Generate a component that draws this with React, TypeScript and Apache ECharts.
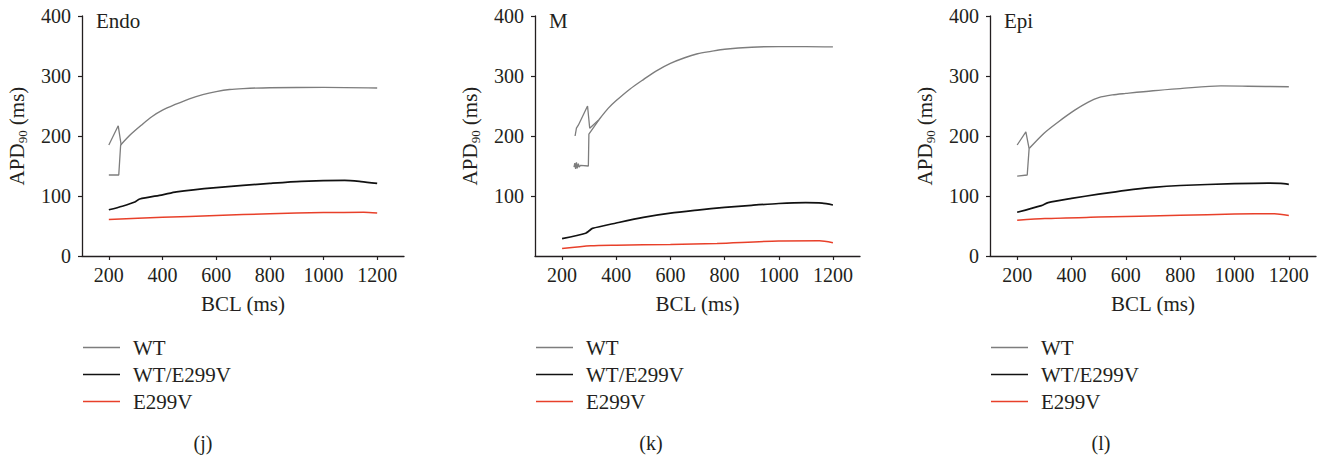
import React, { useEffect, useRef } from "react";
import * as echarts from "echarts";

const FONT = "Liberation Serif";
const TXT = "#231f20";
const C_WT = "#7d7d7d";
const C_MIX = "#111111";
const C_E = "#e8402a";

const seriesNames = ["WT", "WT/E299V", "E299V"];
const panelTitles = ["Endo", "M", "Epi"];
const panelCaptions = ["(j)", "(k)", "(l)"];
const xTicks = [200, 400, 600, 800, 1000, 1200];
const yTicks = [0, 100, 200, 300, 400];

// Endo
const endoWTStart = [[200, 135], [237, 135], [244, 185]];
const endoWTAlt = [[200, 185], [235, 217], [246, 185]];
const endoWT = [[244, 185], [280, 202], [321, 218], [360, 232], [400, 243], [450, 253], [500, 262], [550, 269], [600, 274], [650, 277.5], [700, 279], [800, 280.5], [1000, 281], [1200, 280]];
const endoMix = [[200, 77], [250, 83], [297, 90], [315, 95], [400, 102], [452, 107], [600, 114], [800, 121], [917, 124.5], [1079, 126], [1140, 124], [1200, 121]];
const endoE = [[200, 61], [400, 64.5], [600, 67.5], [800, 70.5], [1000, 72.3], [1150, 72.8], [1200, 71.5]];

// M
const mWTStart = [[244, 148], [247, 155], [250, 145], [253, 156], [256, 146], [260, 154], [263, 148], [268, 151], [297, 150], [299, 203], [336, 227]];
const mWTAlt = [[248, 200], [253, 213], [260, 218], [294, 250], [302, 213], [336, 227]];
const mWT = [[336, 227], [370, 246], [400, 259], [450, 278], [500, 294], [550, 309], [600, 321], [650, 330], [700, 337], [750, 341], [800, 344.5], [900, 348], [1000, 349], [1100, 349], [1200, 348.5]];
const mMix = [[200, 29], [287, 38], [300, 42], [312, 46], [400, 55], [500, 64.5], [600, 71.5], [700, 76.5], [800, 81], [900, 84.5], [1000, 87.5], [1100, 88.8], [1160, 88], [1200, 85]];
const mE = [[200, 12.5], [306, 17], [400, 18], [600, 19.3], [772, 21], [1000, 25], [1150, 25.3], [1200, 22]];

// Epi
const epiWTStart = [[200, 133], [237, 135], [244, 179]];
const epiWTAlt = [[200, 185], [232, 207], [244, 179]];
const epiWT = [[244, 179], [300, 205], [350, 223], [412, 243], [460, 256], [500, 264], [550, 268.5], [600, 271], [700, 275.5], [800, 279], [950, 283.5], [1050, 283], [1200, 282]];
const epiMix = [[200, 73], [289, 84], [314, 89], [400, 96], [500, 103], [600, 109.5], [700, 114.5], [800, 117.5], [1000, 120.5], [1123, 121.5], [1170, 121], [1200, 119.5]];
const epiE = [[200, 59.5], [302, 62.5], [500, 64.8], [800, 68], [1000, 69.8], [1147, 70.5], [1200, 67.5]];

const panels = [
  { start: endoWTStart, alt: endoWTAlt, wt: endoWT, mix: endoMix, e: endoE },
  { start: mWTStart, alt: mWTAlt, wt: mWT, mix: mMix, e: mE },
  { start: epiWTStart, alt: epiWTAlt, wt: epiWT, mix: epiMix, e: epiE },
];

const grids = [
  { left: 82, top: 16, width: 322, height: 240 },
  { left: 535, top: 16, width: 325, height: 240 },
  { left: 990, top: 16, width: 326, height: 240 },
];
const legendLefts = [83, 536, 991];
const titleX = [96, 549, 1004];
const captionX = [203, 651, 1101];

export default function App() {
  const ref = useRef<HTMLDivElement>(null);
  useEffect(() => {
    document.body.style.margin = "0";
    if (!ref.current) return;
    const chart = echarts.init(ref.current, undefined, { renderer: "svg" });
    const axisLine = { show: true, lineStyle: { color: TXT, width: 1.3 } };
    const tickStyle = { fontFamily: FONT, fontSize: 20, color: TXT };
    const nameStyle = { fontFamily: FONT, fontSize: 21, color: TXT };

    const xAxis = grids.map((_, i) => ({
      gridIndex: i,
      type: "value",
      min: 100,
      max: 1300,
      axisLine,
      axisTick: { show: true, customValues: xTicks, length: 4, lineStyle: { color: TXT, width: 1.2 } },
      axisLabel: { ...tickStyle, customValues: xTicks, margin: 9, formatter: (v: number) => String(v) },
      splitLine: { show: false },
      name: "BCL (ms)",
      nameLocation: "middle",
      nameGap: 37,
      nameTextStyle: { ...nameStyle },
    }));
    const yAxis = grids.map((_, i) => ({
      gridIndex: i,
      type: "value",
      min: 0,
      max: 400,
      interval: 100,
      axisLine,
      axisTick: {
        show: true,
        length: 4,
        customValues: i === 1 ? yTicks.slice(1) : yTicks,
        lineStyle: { color: TXT, width: 1.2 },
      },
      axisLabel: { ...tickStyle, margin: 11, showMinLabel: i !== 1, formatter: (v: number) => String(v) },
      splitLine: { show: false },
      name: "{a|APD}{s|90}{a| (ms)}",
      nameLocation: "middle",
      nameGap: 53,
      nameTextStyle: {
        ...nameStyle,
        rich: {
          a: { fontFamily: FONT, fontSize: 21, color: TXT, lineHeight: 24 },
          s: { fontFamily: FONT, fontSize: 13, color: TXT, lineHeight: 13, verticalAlign: "bottom" },
        },
      },
    }));

    const series: any[] = [];
    panels.forEach((p, i) => {
      const base = { type: "line", xAxisIndex: i, yAxisIndex: i, symbol: "none", showSymbol: false };
      series.push({ ...base, name: "WT", data: p.start, lineStyle: { color: C_WT, width: 1.3 }, itemStyle: { color: C_WT } });
      series.push({ ...base, name: "WT", data: p.alt, lineStyle: { color: C_WT, width: 1.3 }, itemStyle: { color: C_WT } });
      series.push({ ...base, name: "WT", data: p.wt, smooth: 0.3, lineStyle: { color: C_WT, width: 1.4 }, itemStyle: { color: C_WT } });
      series.push({ ...base, name: "WT/E299V", data: p.mix, smooth: 0.25, lineStyle: { color: C_MIX, width: 1.7 }, itemStyle: { color: C_MIX } });
      series.push({ ...base, name: "E299V", data: p.e, smooth: 0.25, lineStyle: { color: C_E, width: 1.5 }, itemStyle: { color: C_E } });
    });

    const legend = legendLefts.map((l) => ({
      data: seriesNames.map((n) => ({ name: n, icon: "rect" })),
      orient: "vertical",
      left: l,
      top: 337,
      padding: 0,
      itemWidth: 37,
      itemHeight: 1.5,
      itemGap: 6,
      selectedMode: false,
      textStyle: { ...nameStyle, lineHeight: 21, padding: [0, 0, 0, 8] },
    }));

    const graphic: any[] = [];
    panelTitles.forEach((t, i) => {
      graphic.push({
        type: "text",
        x: titleX[i],
        y: 21,
        style: { text: t, fill: TXT, fontFamily: FONT, fontSize: 21, verticalAlign: "middle", align: "left" },
      });
      graphic.push({
        type: "text",
        x: captionX[i],
        y: 443,
        style: { text: panelCaptions[i], fill: TXT, fontFamily: FONT, fontSize: 20, verticalAlign: "middle", align: "center" },
      });
    });

    chart.setOption({
      animation: false,
      backgroundColor: "#ffffff",
      grid: grids.map((g) => ({ ...g, containLabel: false })),
      xAxis,
      yAxis,
      legend,
      series,
      graphic,
    });
    return () => chart.dispose();
  }, []);
  return <div ref={ref} style={{ width: 1318, height: 455 }} />;
}
